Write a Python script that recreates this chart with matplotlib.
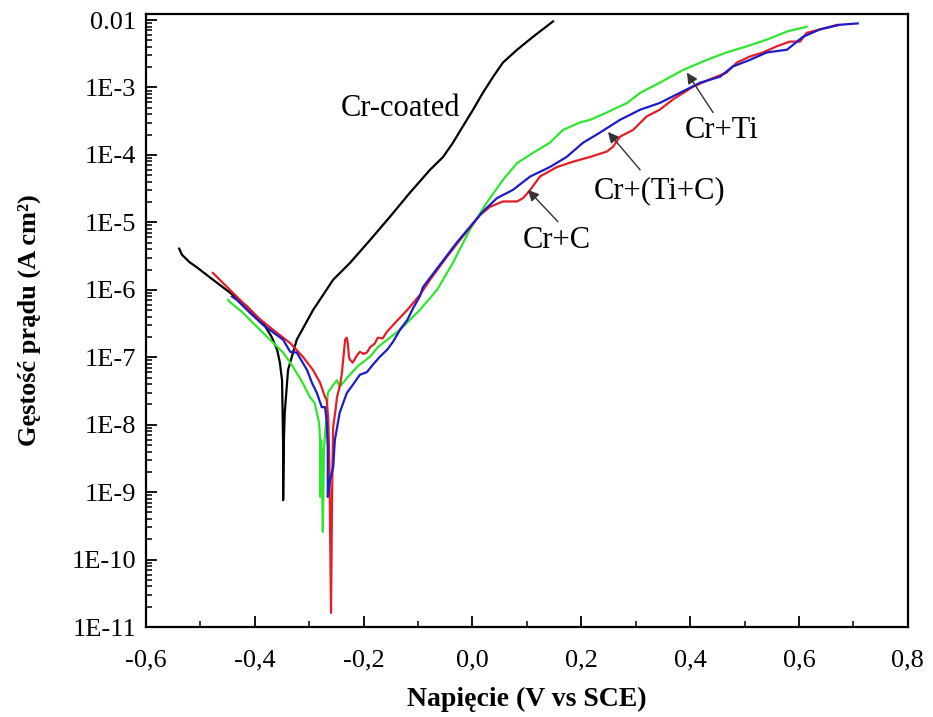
import numpy as np
import matplotlib
matplotlib.use("Agg")
import matplotlib.pyplot as plt
from matplotlib.ticker import FixedLocator, LogLocator, MultipleLocator, NullFormatter

plt.rcParams['font.family'] = ['Liberation Serif', 'DejaVu Serif']

# ---- data (potential V vs SCE, log10 of current density) ----
cr_coated_v = [-0.539, -0.534, -0.520, -0.506, -0.477, -0.446, -0.414, -0.385, -0.369, -0.359, -0.354,
               -0.350, -0.349, -0.348, -0.348, -0.347, -0.345, -0.339, -0.323, -0.293, -0.256,
               -0.225, -0.188, -0.152, -0.115, -0.078, -0.054, -0.036, -0.018, 0.001, 0.019,
               0.038, 0.056, 0.082, 0.111, 0.148]
cr_coated_logi = [-5.39, -5.48, -5.59, -5.67, -5.85, -6.04, -6.25, -6.49, -6.70, -6.89, -7.08,
                  -7.34, -7.80, -8.33, -9.12, -8.33, -7.82, -7.19, -6.74, -6.30, -5.85,
                  -5.60, -5.26, -4.92, -4.56, -4.22, -4.03, -3.82, -3.58, -3.33, -3.08,
                  -2.84, -2.63, -2.44, -2.25, -2.02]

cr_c_v = [-0.477, -0.451, -0.427, -0.396, -0.367, -0.335, -0.312, -0.293, -0.280, -0.271,
          -0.268, -0.266, -0.265, -0.263, -0.260, -0.258, -0.256, -0.252, -0.249, -0.243,
          -0.240, -0.236, -0.234, -0.231, -0.229, -0.227, -0.225, -0.220, -0.213, -0.207,
          -0.200, -0.194, -0.188, -0.180, -0.174, -0.165, -0.157, -0.140, -0.120, -0.097,
          -0.078, -0.047, -0.018, 0.014, 0.032, 0.056, 0.082, 0.093, 0.106, 0.124,
          0.155, 0.185, 0.216, 0.247, 0.258, 0.271, 0.295, 0.320, 0.344, 0.368,
          0.405, 0.436, 0.467, 0.486, 0.510, 0.534, 0.559, 0.583, 0.602, 0.614,
          0.638, 0.671]
cr_c_logi = [-5.75, -5.96, -6.15, -6.40, -6.59, -6.79, -6.99, -7.19, -7.38, -7.59,
             -7.63, -7.82, -7.93, -8.60, -10.79, -9.00, -8.03, -7.80, -7.59, -7.40,
             -7.23, -6.90, -6.74, -6.71, -6.80, -7.00, -7.04, -7.08, -6.98, -6.92,
             -6.95, -6.93, -6.85, -6.80, -6.71, -6.72, -6.62, -6.47, -6.30, -6.08,
             -5.85, -5.51, -5.21, -4.89, -4.77, -4.69, -4.69, -4.64, -4.52, -4.32,
             -4.18, -4.10, -4.03, -3.95, -3.88, -3.73, -3.63, -3.43, -3.33, -3.18,
             -2.99, -2.88, -2.78, -2.63, -2.54, -2.48, -2.39, -2.32, -2.32, -2.19,
             -2.14, -2.07]

cr_tic_v = [-0.442, -0.433, -0.409, -0.385, -0.348, -0.335, -0.323, -0.304, -0.295, -0.286,
            -0.277, -0.271, -0.268, -0.266, -0.266, -0.262, -0.256, -0.253, -0.244, -0.231,
            -0.220, -0.207, -0.194, -0.183, -0.170, -0.157, -0.146, -0.133, -0.120, -0.109,
            -0.097, -0.091, -0.060, -0.029, -0.005, 0.019, 0.045, 0.074, 0.106, 0.142,
            0.173, 0.203, 0.234, 0.271, 0.308, 0.344, 0.381, 0.418, 0.455, 0.478,
            0.510, 0.541, 0.578, 0.607, 0.638, 0.675, 0.708]
cr_tic_logi = [-6.10, -6.15, -6.34, -6.52, -6.74, -6.92, -6.93, -7.19, -7.38, -7.53,
               -7.74, -7.74, -7.94, -8.33, -9.07, -8.82, -8.63, -8.23, -7.82, -7.53,
               -7.41, -7.26, -7.22, -7.11, -6.99, -6.89, -6.77, -6.59, -6.45, -6.27,
               -6.10, -5.96, -5.63, -5.30, -5.07, -4.84, -4.64, -4.52, -4.32, -4.18,
               -4.03, -3.82, -3.67, -3.48, -3.33, -3.23, -3.08, -2.93, -2.84, -2.69,
               -2.59, -2.48, -2.44, -2.25, -2.14, -2.07, -2.05]

cr_ti_v = [-0.449, -0.446, -0.422, -0.396, -0.372, -0.348, -0.330, -0.312, -0.299, -0.290,
           -0.282, -0.280, -0.280, -0.278, -0.277, -0.275, -0.273, -0.269, -0.266, -0.256,
           -0.249, -0.244, -0.231, -0.212, -0.188, -0.174, -0.133, -0.097, -0.065, -0.036,
           -0.005, 0.026, 0.056, 0.082, 0.111, 0.142, 0.166, 0.197, 0.216, 0.247,
           0.284, 0.308, 0.344, 0.387, 0.431, 0.467, 0.504, 0.541, 0.578, 0.614]
cr_ti_logi = [-6.15, -6.18, -6.34, -6.55, -6.74, -6.93, -7.14, -7.38, -7.59, -7.68,
              -7.97, -8.23, -9.07, -8.23, -8.67, -9.59, -8.37, -7.93, -7.53, -7.41,
              -7.34, -7.44, -7.31, -7.14, -6.99, -6.85, -6.59, -6.30, -6.00, -5.60,
              -5.11, -4.71, -4.37, -4.12, -3.97, -3.82, -3.63, -3.52, -3.48, -3.37,
              -3.23, -3.08, -2.93, -2.74, -2.59, -2.48, -2.39, -2.29, -2.17, -2.10]

x_ticks = [-0.6, -0.4, -0.2, 0.0, 0.2, 0.4, 0.6, 0.8]
x_tick_labels = ['-0,6', '-0,4', '-0,2', '0,0', '0,2', '0,4', '0,6', '0,8']
y_ticks = [1e-11, 1e-10, 1e-9, 1e-8, 1e-7, 1e-6, 1e-5, 1e-4, 1e-3, 1e-2]
y_tick_labels = ['1E-11', '1E-10', '1E-9', '1E-8', '1E-7', '1E-6', '1E-5', '1E-4', '1E-3', '0.01']

# ---- figure ----
fig = plt.figure(figsize=(9.33, 7.17), dpi=100)
ax = fig.add_axes([0.1565, 0.1255, 0.8165, 0.855])

lw = 1.6
ax.plot(cr_coated_v, np.power(10.0, cr_coated_logi), color='black', lw=lw)
ax.plot(cr_ti_v, np.power(10.0, cr_ti_logi), color='#2ee62e', lw=lw)
ax.plot(cr_c_v, np.power(10.0, cr_c_logi), color='#e41e26', lw=lw)
ax.plot(cr_tic_v, np.power(10.0, cr_tic_logi), color='#1c1cc8', lw=lw)

ax.set_yscale('log')
ax.set_xlim(-0.6, 0.8)
ax.set_ylim(1e-11, 0.0123)

ax.xaxis.set_major_locator(FixedLocator(x_ticks))
ax.set_xticklabels(x_tick_labels)
ax.xaxis.set_minor_locator(MultipleLocator(0.1))
ax.yaxis.set_major_locator(FixedLocator(y_ticks))
ax.set_yticklabels(y_tick_labels)
ax.yaxis.set_minor_locator(LogLocator(base=10, subs=np.arange(2, 10), numticks=30))
ax.yaxis.set_minor_formatter(NullFormatter())

ax.tick_params(axis='both', which='major', direction='in', length=8, width=1.3,
               labelsize=19, top=False, right=False)
ax.tick_params(axis='both', which='minor', direction='in', length=4.5, width=1.1,
               top=False, right=False)
ax.tick_params(axis='x', which='major', pad=16)
ax.tick_params(axis='y', which='major', pad=7)

for s in ax.spines.values():
    s.set_linewidth(1.6)

ax.set_xlabel('Napięcie (V vs SCE)', fontsize=20, fontweight='bold', labelpad=11)
ax.set_ylabel('Gęstość prądu (A cm²)', fontsize=19, fontweight='bold', labelpad=22)

# ---- annotations ----
ax.text(-0.133, 10**-3.31, 'Cr-coated', fontsize=22, ha='center', va='center')
ax.text(0.458, 10**-3.64, 'Cr+Ti', fontsize=22, ha='center', va='center')
ax.text(0.343, 10**-4.53, 'Cr+(Ti+C)', fontsize=22, ha='center', va='center')
ax.text(0.155, 10**-5.27, 'Cr+C', fontsize=22, ha='center', va='center')

arrow_kw = dict(arrowstyle='-|>', color='#333333', lw=1.0, mutation_scale=16,
                shrinkA=0, shrinkB=0)
ax.annotate('', xy=(0.394, 10**-2.78), xytext=(0.442, 10**-3.37), arrowprops=arrow_kw)
ax.annotate('', xy=(0.249, 10**-3.66), xytext=(0.308, 10**-4.22), arrowprops=arrow_kw)
ax.annotate('', xy=(0.102, 10**-4.52), xytext=(0.157, 10**-4.99), arrowprops=arrow_kw)

fig.savefig('out.png', dpi=100)
